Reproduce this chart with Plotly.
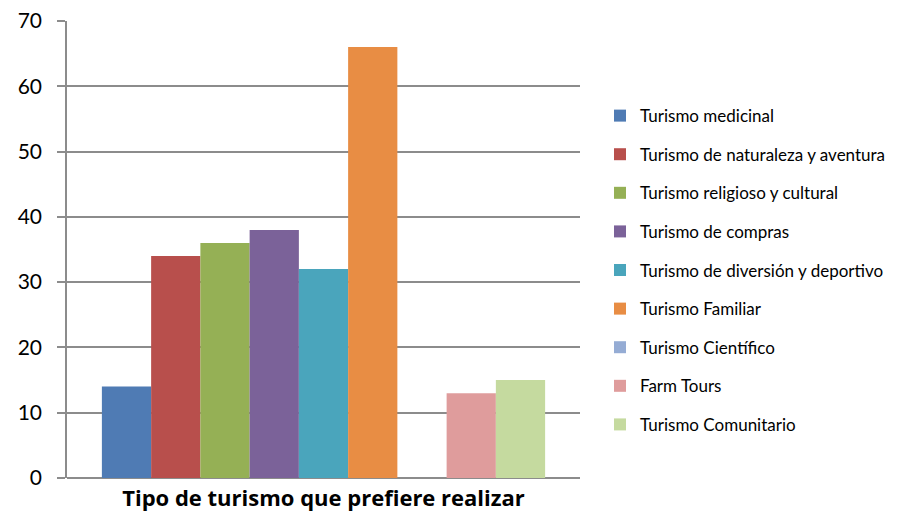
import plotly.graph_objects as go

categoria = ["Tipo de turismo que prefiere realizar"]
series = [
    "Turismo medicinal",
    "Turismo de naturaleza y aventura",
    "Turismo religioso y cultural",
    "Turismo de compras",
    "Turismo de diversión y deportivo",
    "Turismo Familiar",
    "Turismo Científico",
    "Farm Tours",
    "Turismo Comunitario",
]
valores = [14, 34, 36, 38, 32, 66, 0, 13, 15]
colores = ["#4F7BB4", "#B84F4C", "#95B055", "#7B6299", "#4AA5BC", "#E88D44",
           "#95ACD4", "#DF9C9C", "#C5DA9F"]

FONT = "Lato, Open Sans, sans-serif"
GRIS = "#8C8C8C"

fig = go.Figure()
for i, (nombre, v) in enumerate(zip(series, valores)):
    fig.add_trace(go.Bar(
        x=categoria, y=[v], name=nombre,
        marker=dict(color=colores[i], line=dict(width=0)),
        legendgroup=str(i),
    ))

# the page body adds 8px on the left/top, margins compensate for it
fig.update_layout(
    width=897, height=512,
    margin=dict(l=59, r=325, t=13, b=42, autoexpand=False),
    plot_bgcolor="white", paper_bgcolor="white",
    barmode="group", bargap=0.136, bargroupgap=0,
    font=dict(family=FONT, color="black"),
    showlegend=True,
    legend=dict(
        x=1.039, xanchor="left", y=0.455, yanchor="middle",
        font=dict(size=17, family=FONT),
        traceorder="grouped", tracegroupgap=13.5,
        bgcolor="rgba(0,0,0,0)",
    ),
    xaxis=dict(
        showgrid=False, showline=False, ticks="", automargin=False,
        tickfont=dict(size=22, family="Open Sans"),
        ticklabelstandoff=5,
    ),
    yaxis=dict(
        range=[0, 70], dtick=10, automargin=False,
        showgrid=True, gridcolor=GRIS, gridwidth=1.5,
        showline=True, linecolor=GRIS, linewidth=1.5,
        ticks="outside", ticklen=8, tickcolor=GRIS, tickwidth=1.5,
        tickfont=dict(size=21, family=FONT),
        ticklabelstandoff=11, ticklabeloverflow="allow",
        zeroline=True, zerolinecolor=GRIS, zerolinewidth=1.5,
    ),
)
fig.update_xaxes(tickprefix="<b>", ticksuffix="</b>")

fig.write_html("out.html")
